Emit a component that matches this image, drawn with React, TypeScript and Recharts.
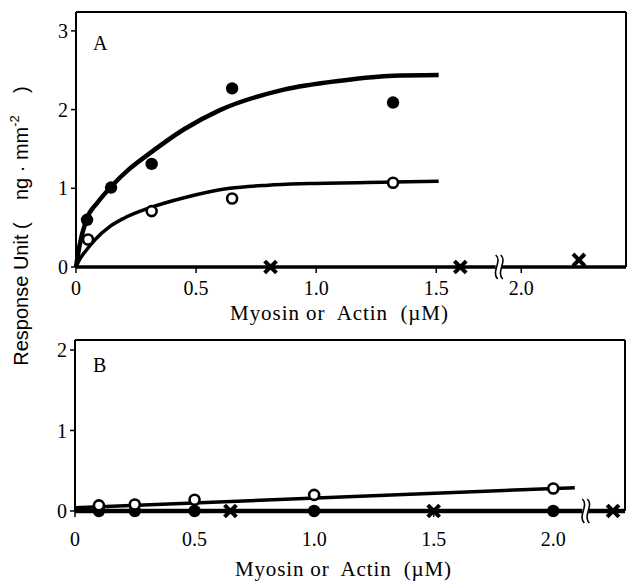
import React from "react";
import {
  ComposedChart,
  Line,
  Scatter,
  XAxis,
  YAxis,
  ReferenceLine,
  ReferenceDot,
} from "recharts";

// ---------- Panel A data ----------
const topFilledX = [0.046, 0.146, 0.315, 0.65, 1.32];
const topFilledY = [0.6, 1.01, 1.31, 2.27, 2.09];
const topOpenX = [0.05, 0.315, 0.65, 1.32];
const topOpenY = [0.35, 0.71, 0.87, 1.07];
const topCrossX = [0.81, 1.6, 2.24];
const topCrossY = [0, 0, 0.09];
const topFitFilledX = [0, 0.014, 0.042, 0.09, 0.146, 0.22, 0.305, 0.45, 0.597, 0.861, 1.11, 1.32, 1.51];
const topFitFilledY = [0, 0.26, 0.59, 0.82, 1.02, 1.24, 1.44, 1.75, 1.99, 2.25, 2.37, 2.43, 2.44];
const topFitOpenX = [0, 0.014, 0.042, 0.08, 0.139, 0.2, 0.305, 0.45, 0.64, 0.8, 0.97, 1.32, 1.51];
const topFitOpenY = [0, 0.09, 0.21, 0.35, 0.51, 0.62, 0.75, 0.88, 1.0, 1.04, 1.06, 1.08, 1.09];
const topXTicks = [0, 0.5, 1.0, 1.5, 2.0];
const topXTickLabels = ["0", "0.5", "1.0", "1.5", "2.0"];
const topYTicks = [0, 1, 2, 3];

// ---------- Panel B data ----------
const botOpenX = [0.1, 0.25, 0.5, 1.0, 2.0];
const botOpenY = [0.07, 0.08, 0.14, 0.2, 0.28];
const botFilledX = [0.1, 0.25, 0.5, 1.0, 2.0];
const botFilledY = [0, 0, 0, 0, 0];
const botCrossX = [0.65, 1.5, 2.25];
const botCrossY = [0, 0, 0];
const botFitOpenX = [0, 2.09];
const botFitOpenY = [0.04, 0.29];
const botFitFilledX = [0, 2.3];
const botFitFilledY = [0, 0];
const botXTicks = [0, 0.5, 1.0, 1.5, 2.0];
const botXTickLabels = ["0", "0.5", "1.0", "1.5", "2.0"];
const botYTicks = [0, 1, 2];

// axis break (panel A): values beyond the break are shifted left
const TOP_BREAK_AT = 1.76;
const TOP_BREAK_SHIFT = 0.146;
const BOT_BREAK_AT = 2.134;

const dispTop = (v: number) => (v > 1.8 ? v - TOP_BREAK_SHIFT : v);

const zip = (xs: number[], ys: number[], f: (v: number) => number = (v) => v) =>
  xs.map((x, i) => ({ x: f(x), y: ys[i] }));

const SERIF = "'Liberation Serif', 'Times New Roman', serif";
const SANS = "'Liberation Sans', Arial, sans-serif";

const FilledDot = (p: any) => <circle cx={p.cx} cy={p.cy} r={6.2} fill="#000" />;
const OpenDot = (p: any) => (
  <circle cx={p.cx} cy={p.cy} r={5} fill="#fff" stroke="#000" strokeWidth={2.6} />
);
const CrossDot = (p: any) => (
  <g stroke="#000" strokeWidth={4} strokeLinecap="square">
    <line x1={p.cx - 4.5} y1={p.cy - 4.5} x2={p.cx + 4.5} y2={p.cy + 4.5} />
    <line x1={p.cx - 4.5} y1={p.cy + 4.5} x2={p.cx + 4.5} y2={p.cy - 4.5} />
  </g>
);
const BreakMark = (p: any) => {
  const { cx, cy } = p;
  return (
    <g>
      <rect x={cx - 3} y={cy - 4} width={6} height={8} fill="#fff" />
      <path
        d={`M${cx - 3},${cy - 12} C${cx + 4},${cy - 6} ${cx - 8},${cy + 5} ${cx - 1},${cy + 12}`}
        fill="none"
        stroke="#000"
        strokeWidth={1.6}
      />
      <path
        d={`M${cx + 2},${cy - 12} C${cx + 9},${cy - 6} ${cx - 3},${cy + 5} ${cx + 4},${cy + 12}`}
        fill="none"
        stroke="#000"
        strokeWidth={1.6}
      />
    </g>
  );
};

const tickStyle = { fontFamily: SERIF, fontSize: 20, fill: "#000" };
const X_LABEL = "Myosin or  Actin  (\u00B5M)";

export default function App() {
  const topDomainX = [0, 2.29];
  const topDomainY = [0, 3.24];
  const botDomainX = [0, 2.3];
  const botDomainY = [0, 2.124];

  return (
    <div
      style={{
        position: "absolute",
        left: 0,
        top: 0,
        width: 630,
        height: 585,
        background: "#fff",
      }}
    >
      <div style={{ position: "absolute", left: 0, top: 0 }}>
        <ComposedChart width={630} height={300} margin={{ top: 12, right: 4, left: 0, bottom: 3 }}>
          <XAxis
            dataKey="x"
            type="number"
            domain={topDomainX}
            ticks={topXTicks.map(dispTop)}
            tickFormatter={(_v: number, i: number) => topXTickLabels[i]}
            height={30}
            tickSize={6}
            tickMargin={8}
            axisLine={{ stroke: "#000", strokeWidth: 3.5 }}
            tickLine={{ stroke: "#000", strokeWidth: 1.5 }}
            tick={tickStyle}
            interval={0}
          />
          <YAxis
            dataKey="y"
            type="number"
            domain={topDomainY}
            ticks={topYTicks}
            width={76}
            tickSize={5}
            tickMargin={3}
            axisLine={{ stroke: "#000", strokeWidth: 2 }}
            tickLine={{ stroke: "#000", strokeWidth: 1.5 }}
            tick={tickStyle}
            interval={0}
          />
          <ReferenceLine y={3.24} stroke="#000" strokeWidth={2} />
          <ReferenceLine x={2.29} stroke="#000" strokeWidth={2} />
          <Line
            data={zip(topFitFilledX, topFitFilledY)}
            dataKey="y"
            type="monotone"
            stroke="#000"
            strokeWidth={4.5}
            dot={false}
            isAnimationActive={false}
          />
          <Line
            data={zip(topFitOpenX, topFitOpenY)}
            dataKey="y"
            type="monotone"
            stroke="#000"
            strokeWidth={3.5}
            dot={false}
            isAnimationActive={false}
          />
          <ReferenceDot x={TOP_BREAK_AT} y={0} ifOverflow="visible" shape={BreakMark} />
          <Scatter data={zip(topFilledX, topFilledY, dispTop)} dataKey="y" shape={FilledDot} isAnimationActive={false} />
          <Scatter data={zip(topOpenX, topOpenY, dispTop)} dataKey="y" shape={OpenDot} isAnimationActive={false} />
          <Scatter data={zip(topCrossX, topCrossY, dispTop)} dataKey="y" shape={CrossDot} isAnimationActive={false} />
        </ComposedChart>
      </div>

      <div style={{ position: "absolute", left: 0, top: 300 }}>
        <ComposedChart width={630} height={285} margin={{ top: 40, right: 5, left: 0, bottom: 34 }}>
          <XAxis
            dataKey="x"
            type="number"
            domain={botDomainX}
            ticks={botXTicks}
            tickFormatter={(_v: number, i: number) => botXTickLabels[i]}
            height={40}
            tickSize={6}
            tickMargin={15}
            axisLine={{ stroke: "#000", strokeWidth: 4 }}
            tickLine={{ stroke: "#000", strokeWidth: 1.5 }}
            tick={tickStyle}
            interval={0}
          />
          <YAxis
            dataKey="y"
            type="number"
            domain={botDomainY}
            ticks={botYTicks}
            width={75}
            tickSize={5}
            tickMargin={3}
            axisLine={{ stroke: "#000", strokeWidth: 2 }}
            tickLine={{ stroke: "#000", strokeWidth: 1.5 }}
            tick={tickStyle}
            interval={0}
          />
          <ReferenceLine y={2.124} stroke="#000" strokeWidth={2} />
          <ReferenceLine x={2.3} stroke="#000" strokeWidth={2} />
          <Line
            data={zip(botFitFilledX, botFitFilledY)}
            dataKey="y"
            type="linear"
            stroke="#000"
            strokeWidth={4.5}
            dot={false}
            isAnimationActive={false}
          />
          <Line
            data={zip(botFitOpenX, botFitOpenY)}
            dataKey="y"
            type="linear"
            stroke="#000"
            strokeWidth={3.5}
            dot={false}
            isAnimationActive={false}
          />
          <ReferenceDot x={BOT_BREAK_AT} y={0} ifOverflow="visible" shape={BreakMark} />
          <Scatter data={zip(botFilledX, botFilledY)} dataKey="y" shape={FilledDot} isAnimationActive={false} />
          <Scatter data={zip(botOpenX, botOpenY)} dataKey="y" shape={OpenDot} isAnimationActive={false} />
          <Scatter data={zip(botCrossX, botCrossY)} dataKey="y" shape={CrossDot} isAnimationActive={false} />
        </ComposedChart>
      </div>

      <svg
        width={630}
        height={585}
        style={{ position: "absolute", left: 0, top: 0, pointerEvents: "none" }}
      >
        <text x={93} y={50} fontFamily={SERIF} fontSize={20} fill="#000">
          A
        </text>
        <text x={93} y={372} fontFamily={SERIF} fontSize={20} fill="#000">
          B
        </text>
        <text
          x={230}
          y={320}
          textLength={218}
          lengthAdjust="spacing"
          fontFamily={SERIF}
          fontSize={21}
          fill="#000"
          style={{ whiteSpace: "pre" }}
        >
          {X_LABEL}
        </text>
        <text
          x={235}
          y={576}
          textLength={216}
          lengthAdjust="spacing"
          fontFamily={SERIF}
          fontSize={21}
          fill="#000"
          style={{ whiteSpace: "pre" }}
        >
          {X_LABEL}
        </text>
        <text
          x={28}
          y={226}
          transform="rotate(-90, 28, 226)"
          textAnchor="middle"
          fontFamily={SANS}
          fontSize={20}
          fill="#000"
          style={{ whiteSpace: "pre" }}
        >
          <tspan>{"Response Unit (    ng \u00B7 mm"}</tspan>
          <tspan fontSize={13} dy={-9}>
            {"-2"}
          </tspan>
          <tspan dy={9}>{"    )"}</tspan>
        </text>
      </svg>
    </div>
  );
}
